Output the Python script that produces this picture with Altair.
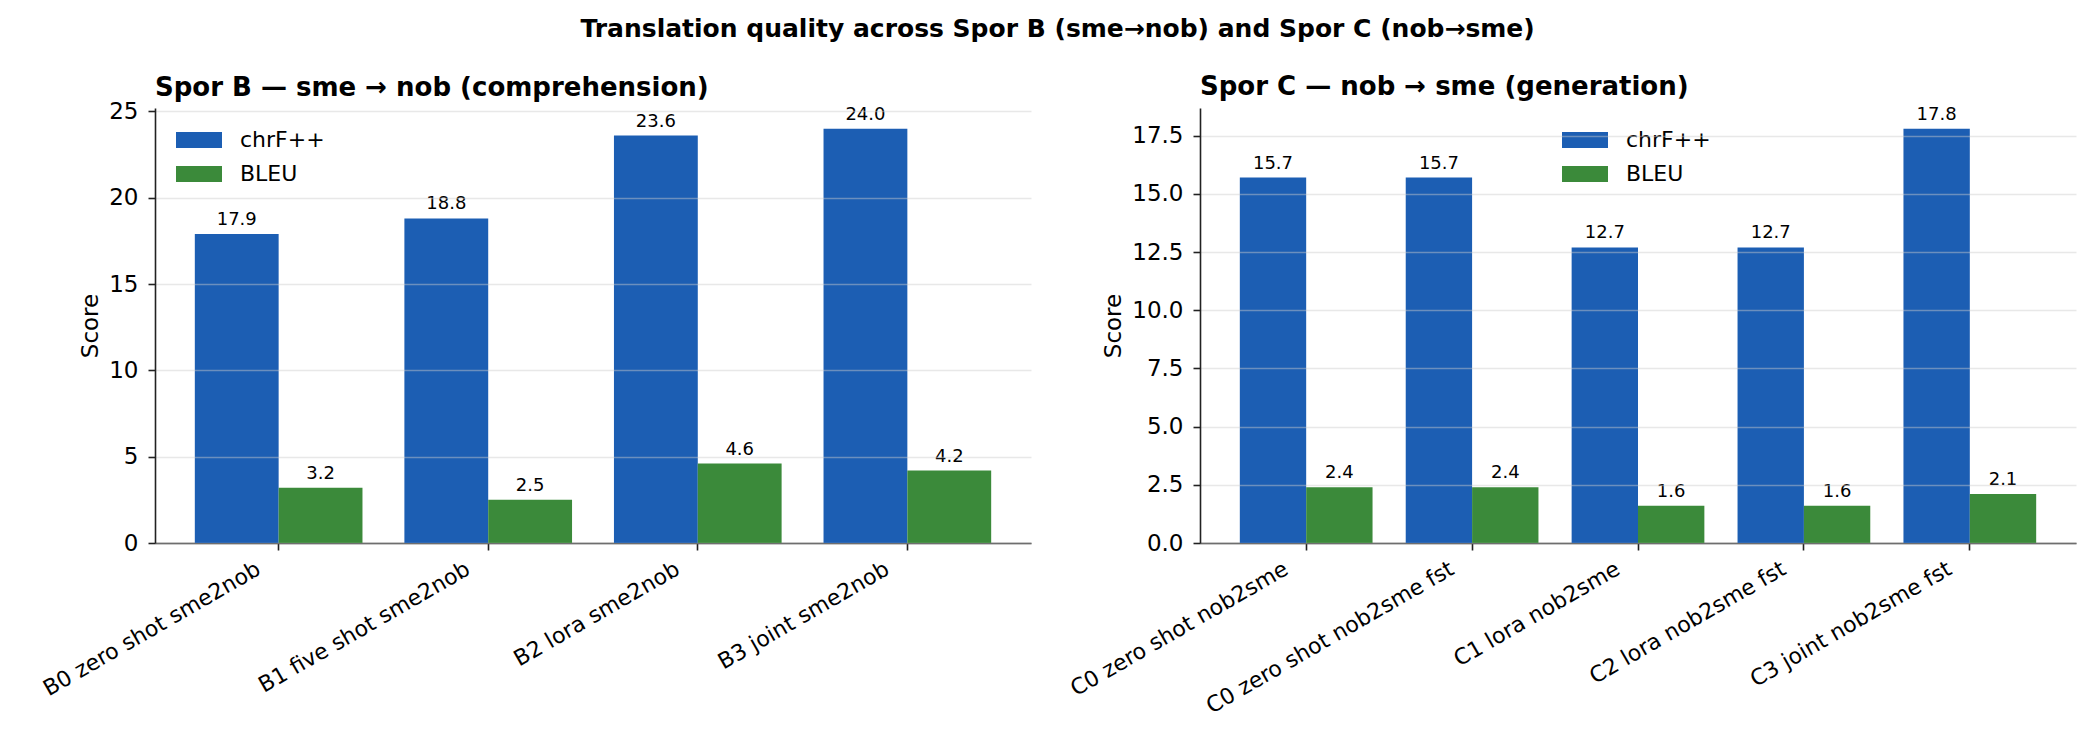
import altair as alt
import pandas as pd

# ---- data ----
metrics = ["chrF++", "BLEU"]
metric_colors = ["#1c5eb3", "#3b8a3a"]

b_runs = ["B0 zero shot sme2nob", "B1 five shot sme2nob", "B2 lora sme2nob", "B3 joint sme2nob"]
b_chrf = [17.9, 18.8, 23.6, 24.0]
b_bleu = [3.2, 2.5, 4.6, 4.2]
b_ticks = [0, 5, 10, 15, 20, 25]
b_ymax = 25.2

c_runs = ["C0 zero shot nob2sme", "C0 zero shot nob2sme fst", "C1 lora nob2sme",
          "C2 lora nob2sme fst", "C3 joint nob2sme fst"]
c_chrf = [15.7, 15.7, 12.7, 12.7, 17.8]
c_bleu = [2.4, 2.4, 1.6, 1.6, 2.1]
c_ticks = [0.0, 2.5, 5.0, 7.5, 10.0, 12.5, 15.0, 17.5]
c_ymax = 18.69

suptitle = "Translation quality across Spor B (sme→nob) and Spor C (nob→sme)"
b_title = "Spor B — sme → nob (comprehension)"
c_title = "Spor C — nob → sme (generation)"

FONT = "DejaVu Sans"
PW, PH = 876, 435
SHIFT = 25  # horizontal screen shift of rotated tick labels (px)
SPINE = "#222222"


def panel(runs, chrf, bleu, title, ymax, ticks, yfmt, pad_outer, legend_x, title_offset):
    n = len(runs)
    df = pd.DataFrame({
        "run": runs * 2,
        "metric": [metrics[0]] * n + [metrics[1]] * n,
        "score": list(chrf) + list(bleu),
    })
    x = alt.X("run:N", sort=runs, title=None,
              scale=alt.Scale(paddingInner=0.2, paddingOuter=pad_outer),
              axis=alt.Axis(labelAngle=-30, labelAlign="right", labelBaseline="top",
                            labelFontSize=22, labelColor="#000", labelPadding=8,
                            labelOffset=-SHIFT,
                            labelFont=FONT, tickSize=7, tickWidth=1.6, tickColor=SPINE,
                            domainColor=SPINE, domainWidth=1.7, grid=False,
                            labelOverlap=False, labelLimit=0))
    xo = alt.XOffset("metric:N", sort=metrics,
                     scale=alt.Scale(domain=metrics, paddingInner=0, paddingOuter=0))
    y = alt.Y("score:Q",
              scale=alt.Scale(domain=[0, ymax], nice=False, zero=True),
              axis=alt.Axis(values=ticks, format=yfmt, title="Score", titleFontSize=23,
                            titleFontWeight="normal", titleColor="#000", titleFont=FONT,
                            titlePadding=6,
                            labelFontSize=23, labelColor="#000", labelFont=FONT,
                            labelPadding=10, tickSize=7, tickWidth=1.6, tickColor=SPINE,
                            domainColor=SPINE, domainWidth=1.6,
                            grid=True, gridColor="#cccccc", gridOpacity=0.45, gridWidth=1.5,
                            zindex=1))
    color = alt.Color("metric:N",
                      scale=alt.Scale(domain=metrics, range=metric_colors),
                      legend=alt.Legend(title=None, orient="none",
                                        legendX=legend_x + 11.5, legendY=20.5,
                                        symbolType="M-2,-0.696L2,-0.696L2,0.696L-2,0.696Z",
                                        symbolSize=529, symbolStrokeWidth=0,
                                        symbolStrokeColor="transparent",
                                        symbolOpacity=1,
                                        labelFontSize=22, labelFont=FONT, labelColor="#000",
                                        labelOffset=29.5, rowPadding=11, padding=0))
    bars = alt.Chart(df).mark_bar().encode(x=x, xOffset=xo, y=y, color=color)
    labels = alt.Chart(df).mark_text(baseline="bottom", dy=-5, fontSize=18, font=FONT,
                                     color="#000").encode(
        x=x, xOffset=xo, y=y, text=alt.Text("score:Q", format=".1f"))
    return alt.layer(bars, labels).properties(
        width=PW, height=PH,
        title=alt.TitleParams(title, anchor="start", frame="group", fontSize=26,
                              fontWeight="bold", font=FONT, color="#000",
                              offset=title_offset))


left = panel(b_runs, b_chrf, b_bleu, b_title, b_ymax, b_ticks, "d", 0.19, 21, -1)
right = panel(c_runs, c_chrf, c_bleu, c_title, c_ymax, c_ticks, ".1f", 0.24, 362, 5.5)

chart = alt.hconcat(left, right, spacing=35).properties(
    title=alt.TitleParams(suptitle, anchor="middle", fontSize=25, fontWeight="bold",
                          font=FONT, color="#000", offset=32),
    padding={"left": 31, "top": 9, "right": 10, "bottom": 5},
).resolve_scale(color="independent", x="independent", y="independent", xOffset="independent"
).resolve_legend(color="independent").configure(background="white"
).configure_view(strokeWidth=0, stroke="transparent")

chart.save("out.html", embed_options={"renderer": "svg", "actions": False})
